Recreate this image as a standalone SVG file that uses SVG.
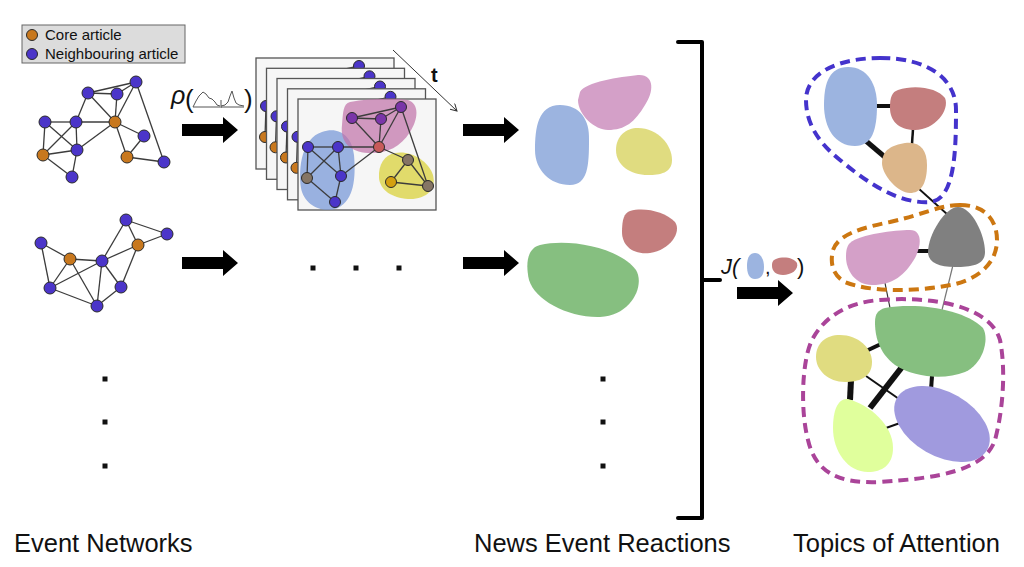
<svg xmlns="http://www.w3.org/2000/svg" width="1024" height="567" viewBox="0 0 1024 567">
<style>
text{font-family:"Liberation Sans",Arial,sans-serif;fill:#111}
.e{stroke:#3c3c3c;stroke-width:1.3;fill:none}
.nb{fill:#4b35c9;stroke:#2a2a2a;stroke-width:1}
.no{fill:#c8781e;stroke:#2a2a2a;stroke-width:1}
.np{fill:#7a35a8;stroke:#2a2a2a;stroke-width:1}
.nr{fill:#c85a5a;stroke:#2a2a2a;stroke-width:1}
.ng{fill:#857565;stroke:#2a2a2a;stroke-width:1}
.ny{fill:#d4a010;stroke:#2a2a2a;stroke-width:1}
.frame{fill:#f6f6f6;stroke:#555;stroke-width:1.3}
.dot{fill:#111}
.lk{stroke:#111;fill:none}
.loop{fill:none;stroke-width:4;stroke-dasharray:10 6}
.spark{fill:none;stroke:#555;stroke-width:1}
.cap{font-size:25.5px}
</style>
<defs>
<path id="arrow" d="M0,-6 H41 V-13 L56,0 L41,13 V6 H0 Z" fill="#000"/>
<marker id="tip" markerWidth="8" markerHeight="8" refX="7" refY="4" orient="auto" markerUnits="userSpaceOnUse">
<path d="M0,0 L7,4 L0,8" fill="none" stroke="#333" stroke-width="1"/>
</marker>
<g id="backnet">
<line class="e" x1="103" y1="8" x2="54" y2="19"/>
<line class="e" x1="10" y1="48" x2="9" y2="79"/>
<line class="e" x1="10" y1="48" x2="40" y2="48"/>
<line class="e" x1="9" y1="79" x2="43" y2="77"/>
<circle class="nb" cx="103" cy="8" r="5.5"/>
<circle class="nb" cx="10" cy="48" r="5.5"/>
<circle class="no" cx="9" cy="79" r="5.5"/>
</g>
</defs>

<g id="legend">
<rect x="22" y="25" width="163" height="38" fill="#dcdcdc" stroke="#666" stroke-width="1"/>
<circle class="no" cx="32" cy="35" r="5.5"/>
<circle class="nb" cx="32" cy="54" r="5.5"/>
<text x="45" y="40" font-size="15">Core article</text>
<text x="45" y="59" font-size="15">Neighbouring article</text>
</g>

<g id="network1">
<g class="e">
<line x1="88" y1="93" x2="136" y2="82"/>
<line x1="88" y1="93" x2="117" y2="94"/>
<line x1="117" y1="94" x2="136" y2="82"/>
<line x1="117" y1="94" x2="115" y2="122"/>
<line x1="136" y1="82" x2="115" y2="122"/>
<line x1="136" y1="82" x2="164" y2="162"/>
<line x1="88" y1="93" x2="76" y2="122"/>
<line x1="88" y1="93" x2="115" y2="122"/>
<line x1="76" y1="122" x2="115" y2="122"/>
<line x1="45" y1="122" x2="76" y2="122"/>
<line x1="45" y1="122" x2="43" y2="155"/>
<line x1="45" y1="122" x2="77" y2="150"/>
<line x1="76" y1="122" x2="43" y2="155"/>
<line x1="76" y1="122" x2="77" y2="150"/>
<line x1="43" y1="155" x2="77" y2="150"/>
<line x1="43" y1="155" x2="72" y2="177"/>
<line x1="77" y1="150" x2="72" y2="177"/>
<line x1="77" y1="150" x2="115" y2="122"/>
<line x1="115" y1="122" x2="144" y2="136"/>
<line x1="115" y1="122" x2="127" y2="157"/>
<line x1="144" y1="136" x2="127" y2="157"/>
<line x1="127" y1="157" x2="164" y2="162"/>
</g>
<circle class="nb" cx="136" cy="82" r="6"/>
<circle class="nb" cx="88" cy="93" r="6"/>
<circle class="nb" cx="117" cy="94" r="6"/>
<circle class="nb" cx="45" cy="122" r="6"/>
<circle class="nb" cx="76" cy="122" r="6"/>
<circle class="no" cx="115" cy="122" r="6"/>
<circle class="nb" cx="144" cy="136" r="6"/>
<circle class="no" cx="43" cy="155" r="6"/>
<circle class="nb" cx="77" cy="150" r="6"/>
<circle class="no" cx="127" cy="157" r="6"/>
<circle class="nb" cx="164" cy="162" r="6"/>
<circle class="nb" cx="72" cy="177" r="6"/>
</g>

<g id="network2">
<g class="e">
<line x1="41" y1="243" x2="70" y2="259"/>
<line x1="41" y1="243" x2="50" y2="288"/>
<line x1="70" y1="259" x2="102" y2="261"/>
<line x1="70" y1="259" x2="50" y2="288"/>
<line x1="70" y1="259" x2="97" y2="306"/>
<line x1="102" y1="261" x2="50" y2="288"/>
<line x1="102" y1="261" x2="97" y2="306"/>
<line x1="102" y1="261" x2="121" y2="287"/>
<line x1="102" y1="261" x2="126" y2="220"/>
<line x1="102" y1="261" x2="138" y2="245"/>
<line x1="126" y1="220" x2="138" y2="245"/>
<line x1="126" y1="220" x2="167" y2="234"/>
<line x1="138" y1="245" x2="167" y2="234"/>
<line x1="138" y1="245" x2="121" y2="287"/>
<line x1="50" y1="288" x2="97" y2="306"/>
<line x1="121" y1="287" x2="97" y2="306"/>
</g>
<circle class="nb" cx="41" cy="243" r="6"/>
<circle class="no" cx="70" cy="259" r="6"/>
<circle class="nb" cx="102" cy="261" r="6"/>
<circle class="nb" cx="126" cy="220" r="6"/>
<circle class="no" cx="138" cy="245" r="6"/>
<circle class="nb" cx="167" cy="234" r="6"/>
<circle class="nb" cx="50" cy="288" r="6"/>
<circle class="nb" cx="121" cy="287" r="6"/>
<circle class="nb" cx="97" cy="306" r="6"/>
</g>

<g id="rho-label">
<text x="171" y="104" font-size="25" font-style="italic">ρ</text>
<text x="185" y="108" font-size="26">(</text>
<path class="spark" d="M193,107 L220,107 M193,107 L196,101 L199,96 L203,92 L206,94 L209,98 L212,99 L215,102 L217,105 L220,106"/>
<path class="spark" d="M221,107 L244,107 M221,100 L221,108 M221,106 L225,105 L228,102 L230,96 L232,91 L234,98 L236,103 L239,105 L244,106"/>
<text x="244" y="108" font-size="26">)</text>
</g>

<g id="time-stack">
<rect class="frame" x="256" y="58" width="138" height="111"/>
<use href="#backnet" transform="translate(256,58)"/>
<rect class="frame" x="266.5" y="68.3" width="138" height="111"/>
<use href="#backnet" transform="translate(266.5,68.3)"/>
<rect class="frame" x="277" y="78.5" width="138" height="111"/>
<use href="#backnet" transform="translate(277,78.5)"/>
<rect class="frame" x="287.5" y="88.8" width="138" height="111"/>
<use href="#backnet" transform="translate(287.5,88.8)"/>
<rect class="frame" x="298" y="99" width="138" height="111"/>
<path d="M322,132 C338,126 352,135 354,155 C356,178 354,200 338,208 C322,214 304,205 301,188 C298,168 302,138 322,132 Z" fill="#7a9ad8" opacity="0.75"/>
<path d="M350,102 C370,98 395,98 408,100 C420,104 418,120 410,132 C400,148 385,154 368,153 C350,152 340,142 342,125 C343,112 343,104 350,102 Z" fill="#c070a8" opacity="0.7"/>
<path d="M395,153 C410,150 428,160 433,175 C437,190 425,200 408,199 C392,198 380,190 379,178 C378,164 385,155 395,153 Z" fill="#d8d030" opacity="0.7"/>
<g class="e">
<line x1="352" y1="118" x2="381" y2="119"/>
<line x1="352" y1="118" x2="401" y2="107"/>
<line x1="381" y1="119" x2="401" y2="107"/>
<line x1="352" y1="118" x2="379" y2="147"/>
<line x1="381" y1="119" x2="379" y2="147"/>
<line x1="401" y1="107" x2="379" y2="147"/>
<line x1="401" y1="107" x2="428" y2="186"/>
<line x1="379" y1="147" x2="338" y2="147"/>
<line x1="379" y1="147" x2="341" y2="176"/>
<line x1="379" y1="147" x2="408" y2="160"/>
<line x1="308" y1="147" x2="338" y2="147"/>
<line x1="308" y1="147" x2="307" y2="178"/>
<line x1="308" y1="147" x2="341" y2="176"/>
<line x1="338" y1="147" x2="307" y2="178"/>
<line x1="338" y1="147" x2="341" y2="176"/>
<line x1="307" y1="178" x2="335" y2="202"/>
<line x1="341" y1="176" x2="335" y2="202"/>
<line x1="408" y1="160" x2="391" y2="182"/>
<line x1="408" y1="160" x2="428" y2="186"/>
<line x1="391" y1="182" x2="428" y2="186"/>
</g>
<circle class="np" cx="352" cy="118" r="5.5"/>
<circle class="np" cx="381" cy="119" r="5.5"/>
<circle class="np" cx="401" cy="107" r="5.5"/>
<circle class="nr" cx="379" cy="147" r="5.5"/>
<circle class="nb" cx="308" cy="147" r="5.5"/>
<circle class="nb" cx="338" cy="147" r="5.5"/>
<circle class="nb" cx="341" cy="176" r="5.5"/>
<circle class="ng" cx="307" cy="178" r="5.5"/>
<circle class="nb" cx="335" cy="202" r="5.5"/>
<circle class="ng" cx="408" cy="160" r="5.5"/>
<circle class="ny" cx="391" cy="182" r="5.5"/>
<circle class="ng" cx="428" cy="186" r="5.5"/>
<line x1="393" y1="50" x2="457" y2="111" stroke="#333" stroke-width="1" marker-end="url(#tip)"/>
<text x="431" y="82" font-size="20" font-weight="bold">t</text>
</g>

<g id="arrows">
<use href="#arrow" transform="translate(182,130)"/>
<use href="#arrow" transform="translate(182,263)"/>
<use href="#arrow" transform="translate(463,130)"/>
<use href="#arrow" transform="translate(463,263)"/>
<use href="#arrow" transform="translate(737,293)"/>
</g>

<g id="ellipsis">
<rect class="dot" x="310.5" y="265.5" width="5" height="5"/>
<rect class="dot" x="353.5" y="265.5" width="5" height="5"/>
<rect class="dot" x="396.5" y="265.5" width="5" height="5"/>
<rect class="dot" x="102.5" y="376.5" width="5" height="5"/>
<rect class="dot" x="102.5" y="419.5" width="5" height="5"/>
<rect class="dot" x="102.5" y="463.5" width="5" height="5"/>
<rect class="dot" x="600.5" y="376.5" width="5" height="5"/>
<rect class="dot" x="600.5" y="419.5" width="5" height="5"/>
<rect class="dot" x="600.5" y="463.5" width="5" height="5"/>
</g>

<g id="reactions">
<path d="M560,105 C580,105 590,120 589,140 C589,165 588,185 570,185 C550,185 535,170 535,150 C535,128 538,105 560,105 Z" fill="#9cb4e0"/>
<path d="M580,92 C585,82 620,77 638,75 C655,74 654,92 645,105 C635,122 625,130 608,130 C595,130 578,115 578,100 Z" fill="#d4a0c8"/>
<path d="M638,128 C658,128 672,145 672,160 C672,173 660,175 648,175 C630,175 616,165 616,150 C616,136 626,128 638,128 Z" fill="#e0dc80"/>
<path d="M630,211 C645,207 665,212 675,222 C682,232 670,250 650,253 C632,255 622,245 622,232 C622,220 624,213 630,211 Z" fill="#c47e7e"/>
<path d="M540,245 C570,238 620,248 636,270 C645,285 632,315 600,317 C568,318 535,300 529,280 C525,262 528,248 540,245 Z" fill="#86bf80"/>
</g>

<g id="bracket">
<path d="M678,42 H702 V518 H678 M702,280 H720" fill="none" stroke="#000" stroke-width="4" stroke-linecap="round" stroke-linejoin="round"/>
</g>

<g id="j-label">
<text x="721" y="274" font-size="22" font-style="italic">J(</text>
<path d="M755,253 C761,253 764,260 764,267 C764,275 761,279 755,279 C749,279 747,273 747,266 C747,259 749,253 755,253 Z" fill="#9cb4e0"/>
<text x="765" y="274" font-size="20">,</text>
<path d="M776,259 C784,256 794,258 797,263 C799,270 791,275 783,275 C776,275 772,271 772,266 C772,262 773,260 776,259 Z" fill="#c47e7e"/>
<text x="797" y="274" font-size="22">)</text>
</g>

<g id="connectors">
<line class="lk" x1="876" y1="106" x2="892" y2="106" stroke-width="4"/>
<line class="lk" x1="913" y1="129" x2="912" y2="144" stroke-width="2.5"/>
<line class="lk" x1="866" y1="141" x2="886" y2="158" stroke-width="5"/>
<line class="lk" x1="918" y1="188" x2="948" y2="215" stroke-width="1.8"/>
<line class="lk" x1="916" y1="251" x2="931" y2="251" stroke-width="4"/>
<line x1="885" y1="283" x2="890" y2="308" stroke="#333" stroke-width="1.2"/>
<line x1="953" y1="265" x2="942" y2="310" stroke="#777" stroke-width="1.2"/>
<line class="lk" x1="866" y1="351" x2="881" y2="344" stroke-width="4"/>
<line class="lk" x1="866" y1="376" x2="899" y2="399" stroke-width="2"/>
<line class="lk" x1="851" y1="380" x2="850" y2="400" stroke-width="6"/>
<line class="lk" x1="902" y1="367" x2="870" y2="408" stroke-width="6"/>
<line class="lk" x1="932" y1="376" x2="931" y2="390" stroke-width="4"/>
<line class="lk" x1="886" y1="428" x2="900" y2="423" stroke-width="2"/>
</g>

<g id="topic-loop-blue">
<path class="loop" stroke="#4433cc" d="M880,58 C930,58 956,80 956,110 C956,150 955,200 930,202 C900,204 870,185 840,160 C815,140 806,120 806,100 C806,72 840,58 880,58 Z"/>
</g>
<g id="topic-loop-orange">
<path class="loop" stroke="#cc7711" d="M960,205 C985,205 997,220 997,240 C997,265 975,282 945,286 C910,292 870,292 845,282 C832,275 830,262 833,250 C838,235 860,228 890,222 C925,214 940,205 960,205 Z"/>
</g>
<g id="topic-loop-magenta">
<path class="loop" stroke="#aa4499" d="M880,300 C930,296 990,305 1000,340 C1006,370 1003,410 995,440 C985,470 940,478 880,482 C835,484 815,470 808,440 C800,410 802,360 812,340 C825,315 850,302 880,300 Z"/>
</g>

<g id="topic-blue"><path d="M848,67 C868,67 877,85 877,105 C877,130 872,146 855,146 C835,146 824,128 824,105 C824,82 830,67 848,67 Z" fill="#9cb4e0"/></g>
<g id="topic-red"><path d="M898,90 C915,84 938,88 945,98 C950,110 935,130 915,130 C898,130 890,120 890,108 C890,97 892,92 898,90 Z" fill="#c47e7e"/></g>
<g id="topic-tan"><path d="M905,143 C920,141 927,150 927,165 C927,185 920,193 910,193 C898,193 882,175 882,163 C882,150 892,145 905,143 Z" fill="#dcb68a"/></g>
<g id="topic-pink"><path d="M850,243 C860,234 895,230 910,230 C922,230 922,245 915,258 C905,275 893,285 872,285 C855,285 846,270 846,257 C846,250 847,246 850,243 Z" fill="#d4a0c8"/></g>
<g id="topic-gray"><path d="M958,207 C972,207 985,235 985,252 C985,265 972,267 955,267 C938,267 928,262 928,252 C928,235 945,207 958,207 Z" fill="#808080"/></g>
<g id="topic-green"><path d="M885,308 C920,302 965,310 983,328 C990,340 982,365 965,372 C945,380 915,378 895,365 C878,352 875,335 875,322 C875,314 878,310 885,308 Z" fill="#86bf80"/></g>
<g id="topic-yellow"><path d="M840,335 C858,335 872,348 872,362 C872,378 858,382 845,382 C828,382 816,370 816,357 C816,343 826,335 840,335 Z" fill="#e0dc80"/></g>
<g id="topic-lime"><path d="M848,399 C870,405 893,425 893,448 C893,465 882,472 868,472 C848,472 833,452 833,428 C833,410 838,398 848,399 Z" fill="#e0ff9c"/></g>
<g id="topic-purple"><ellipse cx="942" cy="424" rx="52" ry="32" transform="rotate(30 942 424)" fill="#a09ade"/></g>

<g id="captions">
<text class="cap" x="14" y="552">Event Networks</text>
<text class="cap" x="474" y="552">News Event Reactions</text>
<text class="cap" x="793" y="552">Topics of Attention</text>
</g>
</svg>
